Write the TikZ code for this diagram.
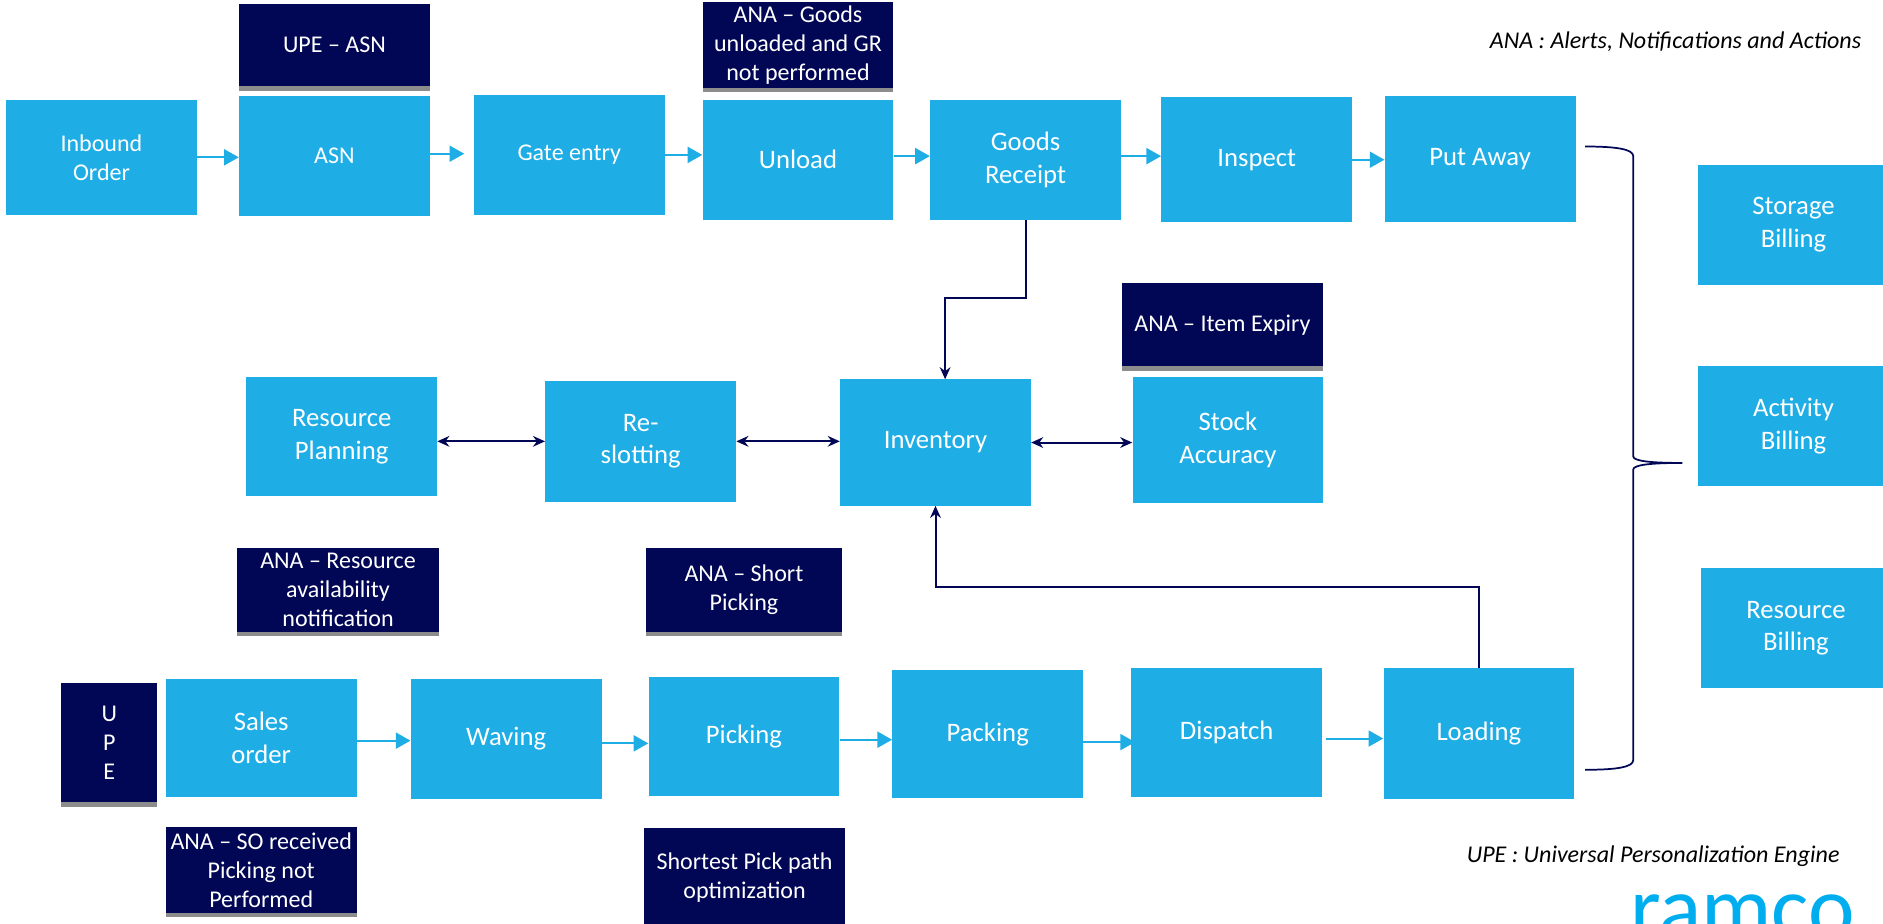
\documentclass[tikz,border=0pt]{standalone}
\usepackage{fontspec}
\setmainfont{Carlito}
\usetikzlibrary{arrows.meta,calc}
\usetikzlibrary{shadows}
\definecolor{rblue}{HTML}{1EADE5}
\definecolor{rnavy}{HTML}{010655}
\definecolor{rlogo}{HTML}{00AEEF}
\tikzset{
  bluebox/.style={fill=rblue,text=white,inner sep=0pt,align=center,minimum width=143pt,minimum height=90pt,font=\fontsize{20}{24.4}\selectfont},
  smallblue/.style={bluebox,font=\fontsize{18}{21.8}\selectfont},
  navybox/.style={fill=rnavy,text=white,inner sep=0pt,align=center,minimum width=143pt,minimum height=63pt,font=\fontsize{18}{21.8}\selectfont,
    drop shadow={shadow xshift=0pt,shadow yshift=-3.5pt,fill=black,opacity=.45}},
  flow/.style={draw=rblue,line width=1.5pt,-{Triangle[length=11pt,width=12pt]}},
  link/.style={draw=rnavy,line width=1.5pt,-{Stealth[length=9pt,width=8pt]}},
  twoway/.style={draw=rnavy,line width=1.5pt,{Stealth[length=9pt,width=8pt]}-{Stealth[length=9pt,width=8pt]}},
  note/.style={inner sep=0pt,font=\fontsize{18}{22}\selectfont\itshape}
}
\begin{document}
\begin{tikzpicture}[x=0.9pt,y=-0.9pt]
  \useasboundingbox (0,0) rectangle (1568,769.4);

  % inbound row
  \node[smallblue,minimum height=86.4pt] (inbound) at (84.5,131) {Inbound\\Order};
  \node[smallblue] (asn) at (278.5,130) {ASN};
  \node[smallblue] (gate) at (474,129) {Gate entry};
  \node[bluebox] (unload) at (664.5,133) {Unload};
  \node[bluebox] (receipt) at (854,133) {Goods\\Receipt};
  \node[bluebox,minimum height=93.6pt] (inspect) at (1046.5,133) {Inspect};
  \node[bluebox,minimum height=94.5pt] (putaway) at (1232.5,132.5) {Put Away};

  % billing
  \node[bluebox] (storage) at (1493.5,187) {Storage\\Billing};
  \node[bluebox] (activity) at (1493.5,355) {Activity\\Billing};
  \node[bluebox] (resbilling) at (1495.5,523) {Resource\\Billing};

  % middle row
  \node[bluebox,minimum height=89pt] (planning) at (284.5,363.5) {Resource\\Planning};
  \node[bluebox,minimum height=91pt] (reslot) at (533.5,367.5) {Re-\\slotting};
  \node[bluebox,minimum height=94.5pt] (inventory) at (779,368.5) {Inventory};
  \node[bluebox,minimum height=94.5pt] (stock) at (1022.5,366.5) {Stock\\Accuracy};

  % outbound row
  \node[bluebox,minimum height=89pt] (sales) at (217.5,614.5) {Sales\\order};
  \node[bluebox] (waving) at (421.5,615) {Waving};
  \node[bluebox,minimum height=89pt] (picking) at (619.5,613.5) {Picking};
  \node[bluebox,minimum height=96pt] (packing) at (822.5,611.5) {Packing};
  \node[bluebox,minimum height=97pt] (dispatch) at (1021.5,610) {Dispatch};
  \node[bluebox,minimum height=98pt] (loading) at (1231.5,610.5) {Loading};

  % dark boxes
  \node[navybox,minimum height=62pt] (upeasn) at (278.5,37.5) {UPE --  ASN};
  \node[navybox,minimum height=64pt] (anagoods) at (664.5,37.5) {ANA --  Goods\\unloaded and GR\\not performed};
  \node[navybox,minimum width=151pt,minimum height=62pt] (anaexpiry) at (1018,270.5) {ANA --  Item Expiry};
  \node[navybox,minimum width=152pt] (anaresource) at (281.5,491) {ANA --  Resource\\availability\\notification};
  \node[navybox,minimum width=147pt] (anashort) at (619.5,491) {ANA --  Short\\Picking};
  \node[navybox,minimum width=72pt,minimum height=89pt] (upe) at (91,618.5) {U\\P\\E};
  \node[navybox,minimum height=64pt] (anaso) at (217.5,724.5) {ANA --  SO received\\Picking not\\Performed};
  \node[navybox,minimum width=151pt,minimum height=75pt] (shortest) at (620,731) {Shortest Pick path\\optimization};

  % notes and logo
  \node[note,anchor=east] (anakey) at (1550,35) {ANA : Alerts, Notifications and Actions};
  \node[note,anchor=east] (upekey) at (1532,713) {UPE : Universal Personalization Engine};
  \node[inner sep=0pt,anchor=base,text=rlogo,font=\fontsize{66}{66}\selectfont] (logo) at (1451,781) {ramco};

  % inbound arrows
  \draw[flow] (inbound.east) -- (inbound.east -| asn.west);
  \draw[flow,shorten >=7pt] ([yshift=1.8pt]asn.east) -- ([yshift=1.8pt]asn.east -| gate.west);
  \draw[flow] (gate.east) -- (gate.east -| unload.west);
  \draw[flow] ([yshift=2.7pt]unload.east) -- ([yshift=2.7pt]unload.east -| receipt.west);
  \draw[flow] ([yshift=2.7pt]receipt.east) -- ([yshift=2.7pt]receipt.east -| inspect.west);
  \draw[flow] (inspect.east) -- (inspect.east -| putaway.west);

  % outbound arrows
  \draw[flow] ([yshift=-2pt]sales.east) -- ([yshift=-2pt]sales.east -| waving.west);
  \draw[flow] ([yshift=-3.6pt]waving.east) -- ([yshift=-3.6pt]waving.east -| picking.west);
  \draw[flow] ([yshift=-2.2pt]picking.east) -- ([yshift=-2.2pt]picking.east -| packing.west);
  \draw[flow,shorten >=-3pt] ([yshift=-5.8pt]packing.east) -- ([yshift=-5.8pt]packing.east -| dispatch.west);
  \draw[flow,shorten <=3pt] ([yshift=-4.5pt]dispatch.east) -- ([yshift=-4.5pt]dispatch.east -| loading.west);

  % links to inventory
  \draw[link] (receipt.south) -- ++(0,65) -| ([xshift=7.2pt]inventory.north);
  \draw[link] (loading.north) -- ++(0,-67) -| (inventory.south);
  \draw[twoway] (planning.east |- reslot.west) -- (reslot.west);
  \draw[twoway] (reslot.east) -- (reslot.east -| inventory.west);
  \draw[twoway] (inventory.east) -- (inventory.east -| stock.west);

  % the brace
  \draw[draw=rnavy,line width=1.3pt] (1320,122) .. controls (1345,122) and (1360,124) .. (1360,130)
    -- (1360,380) .. controls (1360,384) and (1375,385.5) .. (1401,385.5)
    .. controls (1375,385.5) and (1360,387) .. (1360,391)
    -- (1360,633) .. controls (1360,639) and (1345,641) .. (1320,641);
\end{tikzpicture}
\end{document}
